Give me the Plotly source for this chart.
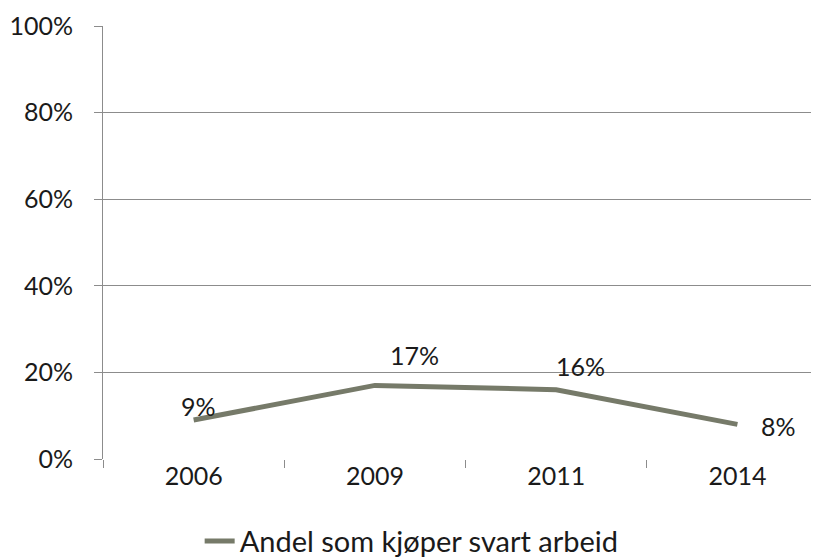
import plotly.graph_objects as go

years = ["2006", "2009", "2011", "2014"]
values = [0.09, 0.17, 0.16, 0.08]
labels = ["9%", "17%", "16%", "8%"]
series_name = "Andel som kjøper svart arbeid"
y_ticks = [0, 0.2, 0.4, 0.6, 0.8, 1.0]
y_tick_text = ["0%", "20%", "40%", "60%", "80%", "100%"]

FONT = "Lato"
LINE_COLOR = "#767A69"
GRID = "#8C8C8C"
TXT = "#1a1a1a"

fig = go.Figure()
fig.add_trace(go.Scatter(
    x=years, y=values, mode="lines", name=series_name,
    line=dict(color=LINE_COLOR, width=5), showlegend=True,
))

# data labels offsets (pixels)
offsets = [(5, 14), (40, 30), (24, 24), (41, -2)]
for i, (v, t, (dx, dy)) in enumerate(zip(values, labels, offsets)):
    fig.add_annotation(x=i, y=v, xref="x", yref="y", text=t, showarrow=False,
                       xshift=dx, yshift=dy,
                       font=dict(family=FONT, size=25, color=TXT))

fig.update_layout(
    width=811, height=552,
    margin=dict(l=95, r=0, t=18, b=101, autoexpand=False),
    paper_bgcolor="white", plot_bgcolor="white",
    font=dict(family=FONT, size=25, color=TXT),
    showlegend=True,
    legend=dict(orientation="h", x=0.135, xanchor="left", y=-0.19, yanchor="middle",
                font=dict(family=FONT, size=29, color=TXT)),
    xaxis=dict(type="category", range=[-0.5, 3.45], showgrid=False,
               ticks="outside", tickson="boundaries", ticklen=8, tickcolor=GRID,
               showline=False, zeroline=False, tickfont=dict(size=25)),
    yaxis=dict(range=[0, 1.0], tickvals=y_ticks, ticktext=y_tick_text,
               showgrid=True, gridcolor=GRID, gridwidth=1,
               ticks="outside", ticklen=8, tickcolor=GRID,
               showline=True, linecolor=GRID, linewidth=1,
               zeroline=False, tickfont=dict(size=25), ticklabelstandoff=16),
)

fig.write_html("out.html")
